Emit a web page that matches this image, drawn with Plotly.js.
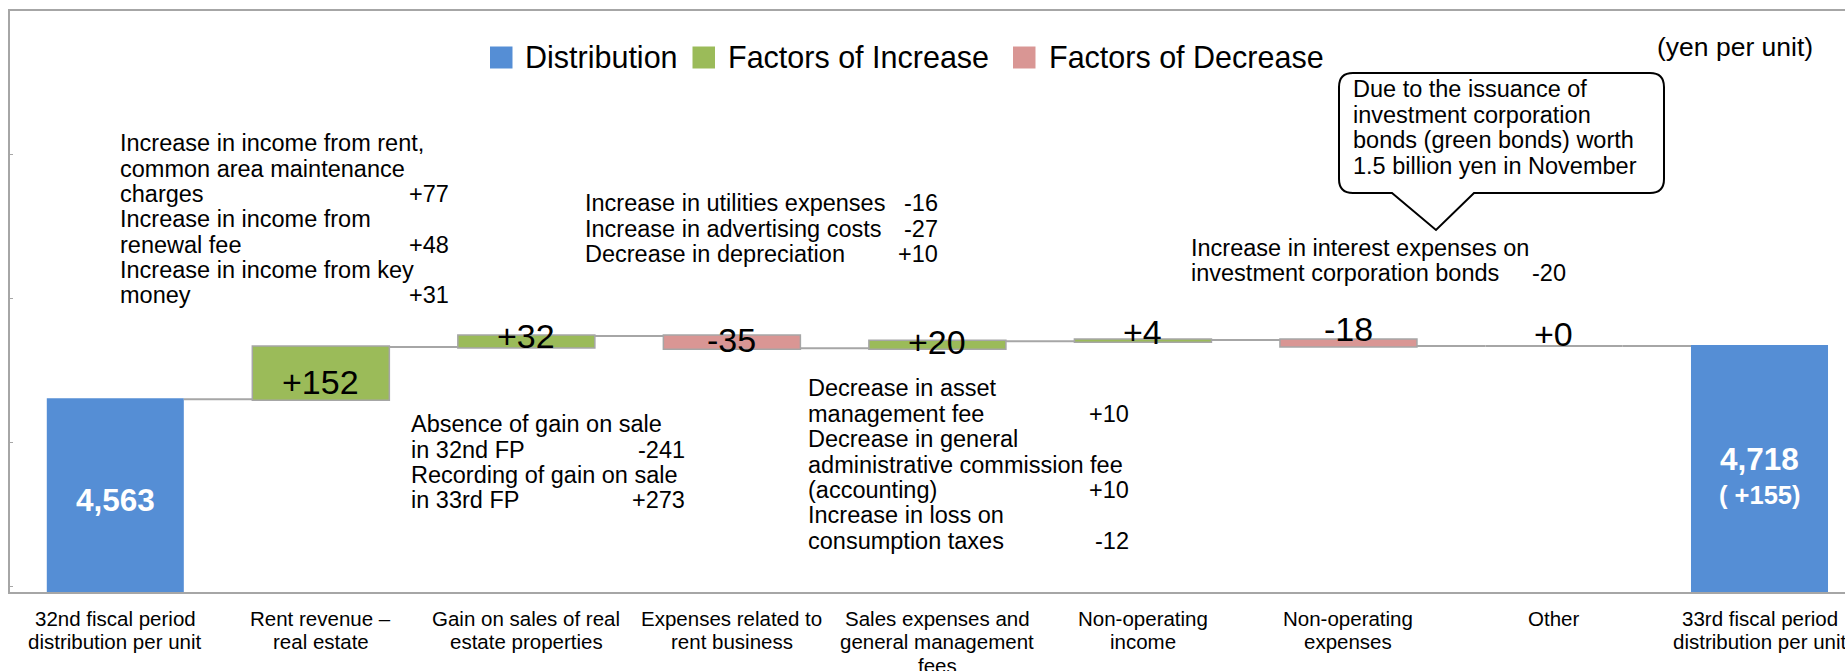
<!DOCTYPE html>
<html>
<head>
<meta charset="utf-8">
<script src="https://cdn.plot.ly/plotly-3.0.1.min.js"></script>
<style>
html,body{margin:0;padding:0;background:#fff;}
#chart{width:1845px;height:671px;}
</style>
</head>
<body>
<div id="chart"></div>
<script>
// ---------------- DATA ----------------
const categories = [
  '32nd fiscal period<br>distribution per unit',
  'Rent revenue –<br>real estate',
  'Gain on sales of real<br>estate properties',
  'Expenses related to<br>rent business',
  'Sales expenses and<br>general management<br>fees',
  'Non-operating<br>income',
  'Non-operating<br>expenses',
  'Other',
  '33rd fiscal period<br>distribution per unit'
];
const measures = ['absolute','relative','relative','relative','relative','relative','relative','relative','total'];
const values = [4563, 152, 32, -35, 20, 4, -18, 0, 4718];

const legendNames = ['Distribution', 'Factors of Increase', 'Factors of Decrease'];
const unitLabel = '(yen per unit)';

const noteRentLines = ['Increase in income from rent,', 'common area maintenance', 'charges', 'Increase in income from', 'renewal fee', 'Increase in income from key', 'money'];
const noteRentValues = ['', '', '+77', '', '+48', '', '+31'];

const noteExpLines = ['Increase in utilities expenses', 'Increase in advertising costs', 'Decrease in depreciation'];
const noteExpValues = ['-16', '-27', '+10'];

const noteGainLines = ['Absence of gain on sale', 'in 32nd FP', 'Recording of gain on sale', 'in 33rd FP'];
const noteGainValues = ['', '-241', '', '+273'];

const noteSgaLines = ['Decrease in asset', 'management fee', 'Decrease in general', 'administrative commission fee', '(accounting)', 'Increase in loss on', 'consumption taxes'];
const noteSgaValues = ['', '+10', '', '', '+10', '', '-12'];

const noteBondLines = ['Increase in interest expenses on', 'investment corporation bonds'];
const noteBondValues = ['', '-20'];

const calloutLines = ['Due to the issuance of', 'investment corporation', 'bonds (green bonds) worth', '1.5 billion yen in November'];

// ---------------- STYLE / LAYOUT ----------------
const FONT = 'Liberation Sans, Arial, Helvetica, sans-serif';
const COL = {dist:'#558ED5', inc:'#9BBB59', dec:'#D99694', edge:'#A6A6A6', text:'#000000'};
const W = 1845, H = 671, M = {l:10, r:0, t:11, b:79};
const PW = W - M.l - M.r, PH = H - M.t - M.b;
const pxPerYen = 0.343, yMin = 4001;
const firstCenterPx = 115.3, catStepPx = 205.525;
const GAP = 0.3333;
const xr0 = -(firstCenterPx - M.l) / catStepPx;
const xr1 = xr0 + PW / catStepPx;
const px = x => (x - M.l) / PW;
const py = y => (H - M.b - y) / PH;

// bar label vertical nudges (px, positive = down) as in the original
const labelNudge = [0, 8.4, -5.3, -2.3, -2.4, -8.4, -14, -12.5, 0];

const annotations = [];
const shapes = [];
function txt(x, y, text, size, anchor, extra) {
  annotations.push(Object.assign({
    xref:'paper', yref:'paper', x:px(x), y:py(y), text:text, showarrow:false,
    xanchor:anchor, yanchor:'middle', font:{family:FONT, size:size, color:COL.text}
  }, extra || {}));
}
function block(lines, vals, left, right, top, step, size) {
  lines.forEach((t, i) => txt(left - 2, top + i * step, t, size, 'left'));
  if (vals) vals.forEach((v, i) => { if (v) txt(right + 2, top + i * step, v, size, 'right'); });
}

// note blocks
const NS = 23.5;
block(noteRentLines, noteRentValues, 119.5, 449, 143.3, 25.3, NS);
block(noteExpLines, noteExpValues, 585, 938, 203.3, 25.3, NS);
block(noteGainLines, noteGainValues, 411, 685, 424.3, 25.25, NS);
block(noteSgaLines, noteSgaValues, 808, 1129, 388.3, 25.4, NS);
block(noteBondLines, noteBondValues, 1191, 1566, 248, 25, NS);
block(calloutLines, null, 1353, 0, 89, 25.6, NS);
txt(1657 - 2, 46.7, unitLabel, 26.5, 'left');

// category labels (one annotation per line)
categories.forEach((c, i) => {
  c.split('<br>').forEach((line, k) => {
    annotations.push({xref:'x', yref:'paper', x:c, y:py(618 + k * 23.5), text:line, showarrow:false,
      xanchor:'center', yanchor:'middle', font:{family:FONT, size:20.5, color:COL.text}});
  });
});

// bar value labels derived from the data
let cum = 0;
values.forEach((v, i) => {
  if (measures[i] === 'relative') {
    const start = cum, end = cum + v; cum = end;
    annotations.push({xref:'x', yref:'y', x:categories[i], y:(start + end) / 2,
      yshift:-labelNudge[i], text:(v >= 0 ? '+' : '') + v, showarrow:false,
      xanchor:'center', yanchor:'middle', font:{family:FONT, size:34, color:COL.text}});
    // a zero-height step is still drawn as its outline in the original
    if (v === 0) {
      shapes.push({type:'line', xref:'x', yref:'y', x0:i - (1 - GAP) / 2, x1:i + (1 - GAP) / 2, y0:end, y1:end,
        line:{color:COL.edge, width:2}, layer:'below'});
    }
  } else if (measures[i] === 'absolute') {
    cum = v;
  }
});
const first = values[0];
const total = cum;
annotations.push({xref:'x', yref:'paper', x:categories[0], y:py(500), text:'<b>' + first.toLocaleString('en-US') + '</b>',
  showarrow:false, xanchor:'center', yanchor:'middle', font:{family:FONT, size:31.5, color:'#FFFFFF'}});
annotations.push({xref:'x', yref:'paper', x:categories[8], y:py(459), text:'<b>' + total.toLocaleString('en-US') + '</b>',
  showarrow:false, xanchor:'center', yanchor:'middle', font:{family:FONT, size:31.5, color:'#FFFFFF'}});
annotations.push({xref:'x', yref:'paper', x:categories[8], y:py(495), text:'<b>( +' + (total - first) + ')</b>',
  showarrow:false, xanchor:'center', yanchor:'middle', font:{family:FONT, size:25.5, color:'#FFFFFF'}});

// legend (manual, to match the large square keys)
const legendKeys = [{x:490, c:COL.dist, tx:525}, {x:692.5, c:COL.inc, tx:728}, {x:1013, c:COL.dec, tx:1048.5}];
legendKeys.forEach((k, i) => {
  shapes.push({type:'rect', xref:'paper', yref:'paper', x0:px(k.x), x1:px(k.x + 22.5), y0:py(68.5), y1:py(46.5),
    fillcolor:k.c, line:{width:0}});
  txt(k.tx - 2, 57.5, legendNames[i], 30.5, 'left');
});

// speech-bubble callout
(function(){
  const x0 = 1339, x1 = 1664, y0 = 73, y1 = 193, r = 14;
  const P = (x, y) => px(x).toFixed(6) + ',' + py(y).toFixed(6);
  const d = 'M' + P(x0 + r, y0) + ' L' + P(x1 - r, y0) + ' Q' + P(x1, y0) + ' ' + P(x1, y0 + r) +
    ' L' + P(x1, y1 - r) + ' Q' + P(x1, y1) + ' ' + P(x1 - r, y1) +
    ' L' + P(1474, y1) + ' L' + P(1436, 230) + ' L' + P(1392, y1) +
    ' L' + P(x0 + r, y1) + ' Q' + P(x0, y1) + ' ' + P(x0, y1 - r) +
    ' L' + P(x0, y0 + r) + ' Q' + P(x0, y0) + ' ' + P(x0 + r, y0) + ' Z';
  shapes.push({type:'path', xref:'paper', yref:'paper', path:d, fillcolor:'#FFFFFF', line:{color:'#000000', width:2}});
})();

const trace = {
  type:'waterfall',
  x:categories,
  y:values,
  measure:measures,
  hoverinfo:'skip',
  textinfo:'none',
  showlegend:false,
  connector:{mode:'between', line:{color:COL.edge, width:2}},
  increasing:{marker:{color:COL.inc, line:{color:COL.edge, width:1.5}}},
  decreasing:{marker:{color:COL.dec, line:{color:COL.edge, width:1.5}}},
  totals:{marker:{color:COL.dist, line:{width:0}}}
};

const layout = {
  width:W, height:H,
  margin:{l:M.l, r:M.r, t:M.t, b:M.b, pad:0},
  paper_bgcolor:'#FFFFFF', plot_bgcolor:'#FFFFFF',
  font:{family:FONT, color:COL.text},
  showlegend:false,
  waterfallgap:GAP,
  xaxis:{type:'category', range:[xr0, xr1], showticklabels:false, ticks:'', showgrid:false, zeroline:false,
    showline:true, mirror:true, linecolor:COL.edge, linewidth:2, fixedrange:true},
  yaxis:{range:[yMin, yMin + PH / pxPerYen], showticklabels:false, showgrid:false, zeroline:false,
    showline:true, linecolor:COL.edge, linewidth:2, ticks:'inside', ticklen:3, tickcolor:COL.edge,
    tickmode:'linear', tick0:4015.6, dtick:420, fixedrange:true},
  annotations:annotations,
  shapes:shapes
};

Plotly.newPlot('chart', [trace], layout, {staticPlot:true, displayModeBar:false});
</script>
</body>
</html>
